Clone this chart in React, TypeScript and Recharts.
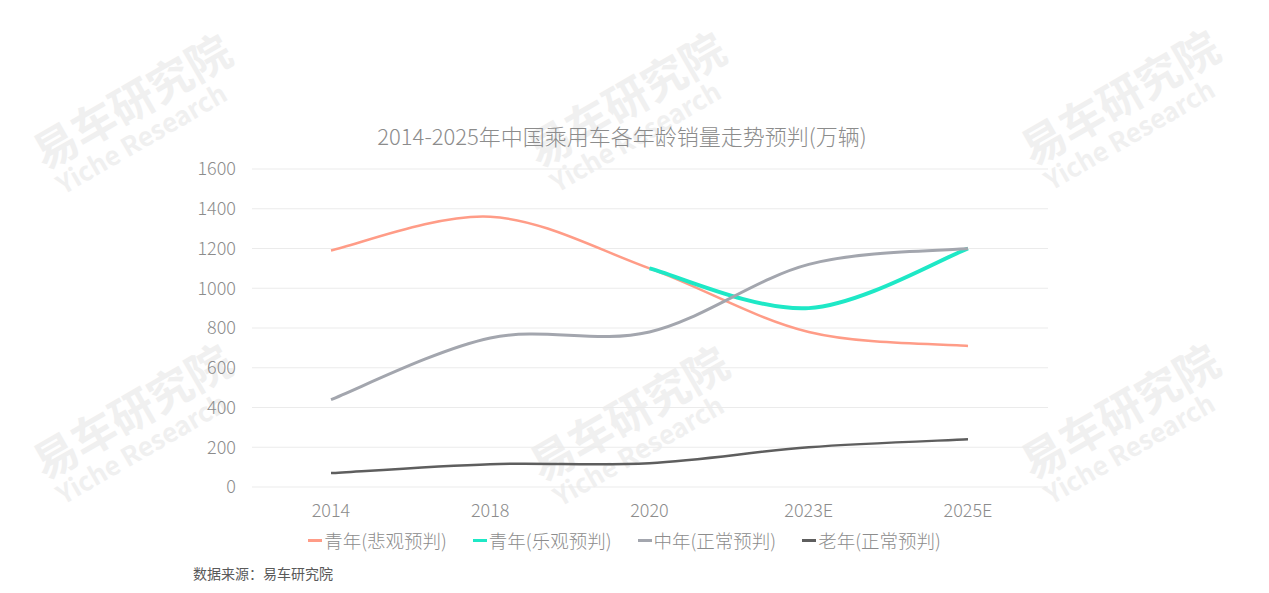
import React from 'react';
import { CartesianGrid, Line, LineChart, XAxis, YAxis } from 'recharts';

document.body.style.margin = '0';

const years = ['2014', '2018', '2020', '2023E', '2025E'];
const youthPessimistic = [1190, 1360, 1100, 780, 710];
const youthOptimistic = [null, null, 1100, 900, 1200];
const middleAged = [440, 750, 780, 1120, 1200];
const elderly = [70, 115, 120, 200, 240];
const yTicks = [0, 200, 400, 600, 800, 1000, 1200, 1400, 1600];

const series = [
  { key: 'pess', name: '青年(悲观预判)', color: '#FF9C87', width: 2.5 },
  { key: 'opt', name: '青年(乐观预判)', color: '#1EE8C6', width: 4 },
  { key: 'mid', name: '中年(正常预判)', color: '#A3A6AE', width: 3 },
  { key: 'old', name: '老年(正常预判)', color: '#5E5E5E', width: 2.5 },
];

const data = years.map((year, i) => ({
  year,
  pess: youthPessimistic[i],
  opt: youthOptimistic[i],
  mid: middleAged[i],
  old: elderly[i],
}));

// Excel-style smoothed line (Catmull-Rom through the points)
const excelSmooth = (context: any) => {
  let pts: number[][] = [];
  return {
    areaStart() {},
    areaEnd() {},
    lineStart() {
      pts = [];
    },
    point(x: number, y: number) {
      pts.push([+x, +y]);
    },
    lineEnd() {
      if (!pts.length) return;
      context.moveTo(pts[0][0], pts[0][1]);
      for (let i = 0; i < pts.length - 1; i++) {
        const p0 = pts[Math.max(i - 1, 0)];
        const p1 = pts[i];
        const p2 = pts[i + 1];
        const p3 = pts[Math.min(i + 2, pts.length - 1)];
        context.bezierCurveTo(
          p1[0] + (p2[0] - p0[0]) / 6,
          p1[1] + (p2[1] - p0[1]) / 6,
          p2[0] - (p3[0] - p1[0]) / 6,
          p2[1] - (p3[1] - p1[1]) / 6,
          p2[0],
          p2[1]
        );
      }
    },
  };
};

const FONT = '"Noto Sans CJK SC", "Noto Sans", sans-serif';

const marks = [
  [138, 112],
  [632, 110],
  [1126, 108],
  [138, 422],
  [635, 424],
  [1126, 422],
];

function Watermark({ x, y }: { x: number; y: number }) {
  return (
    <div
      style={{
        position: 'absolute',
        left: x,
        top: y,
        transform: 'translate(-50%, -50%) rotate(-30deg)',
        color: '#F0F0F0',
        fontFamily: FONT,
        fontWeight: 700,
        textAlign: 'left',
        lineHeight: 1.1,
        whiteSpace: 'nowrap',
      }}
    >
      <div style={{ fontSize: 44 }}>易车研究院</div>
      <div style={{ fontSize: 26, marginLeft: 4 }}>Yiche Research</div>
    </div>
  );
}

export default function App() {
  return (
    <div style={{ position: 'relative', width: 1269, height: 593, background: '#fff', overflow: 'hidden' }}>
      {marks.map(([x, y], i) => (
        <Watermark key={i} x={x} y={y} />
      ))}
      <div
        style={{
          position: 'absolute',
          top: 119,
          left: 0,
          width: 1244,
          textAlign: 'center',
          fontFamily: FONT,
          fontWeight: 300,
          fontSize: 22,
          color: '#8C8C8C',
        }}
      >
        2014-2025年中国乘用车各年龄销量走势预判(万辆)
      </div>
      <div style={{ position: 'absolute', top: 0, left: 0 }}>
        <LineChart
          width={1269}
          height={593}
          data={data}
          margin={{ top: 169, right: 221, bottom: 76, left: 192 }}
        >
          <CartesianGrid vertical={false} stroke="#EBEBEB" />
          <XAxis
            dataKey="year"
            axisLine={false}
            tickLine={false}
            height={30}
            tickMargin={11}
            padding={{ left: 79, right: 80 }}
            tick={{ fontSize: 18, fill: '#8C8C8C', fontFamily: FONT, fontWeight: 300 }}
          />
          <YAxis
            domain={[0, 1600]}
            ticks={yTicks}
            width={60}
            axisLine={false}
            tickLine={false}
            tickMargin={10}
            tick={{ fontSize: 18, fill: '#8C8C8C', fontFamily: FONT, fontWeight: 300 }}
          />
          {series.map((s) => (
            <Line
              key={s.key}
              dataKey={s.key}
              name={s.name}
              type={excelSmooth as any}
              stroke={s.color}
              strokeWidth={s.width}
              dot={false}
              activeDot={false}
              isAnimationActive={false}
            />
          ))}
        </LineChart>
      </div>
      <div
        style={{
          position: 'absolute',
          top: 527,
          left: 0,
          width: 1249,
          display: 'flex',
          justifyContent: 'center',
          gap: 26,
          fontFamily: FONT,
        }}
      >
        {series.map((s) => (
          <div
            key={s.key}
            style={{ display: 'flex', alignItems: 'center', fontSize: 18.5, fontWeight: 300, color: '#8C8C8C' }}
          >
            <span style={{ display: 'inline-block', width: 14, height: 3, background: s.color, marginRight: 2 }} />
            {s.name}
          </div>
        ))}
      </div>
      <div
        style={{
          position: 'absolute',
          left: 193,
          top: 563,
          fontFamily: FONT,
          fontSize: 14,
          color: '#595959',
        }}
      >
        数据来源：易车研究院
      </div>
    </div>
  );
}
